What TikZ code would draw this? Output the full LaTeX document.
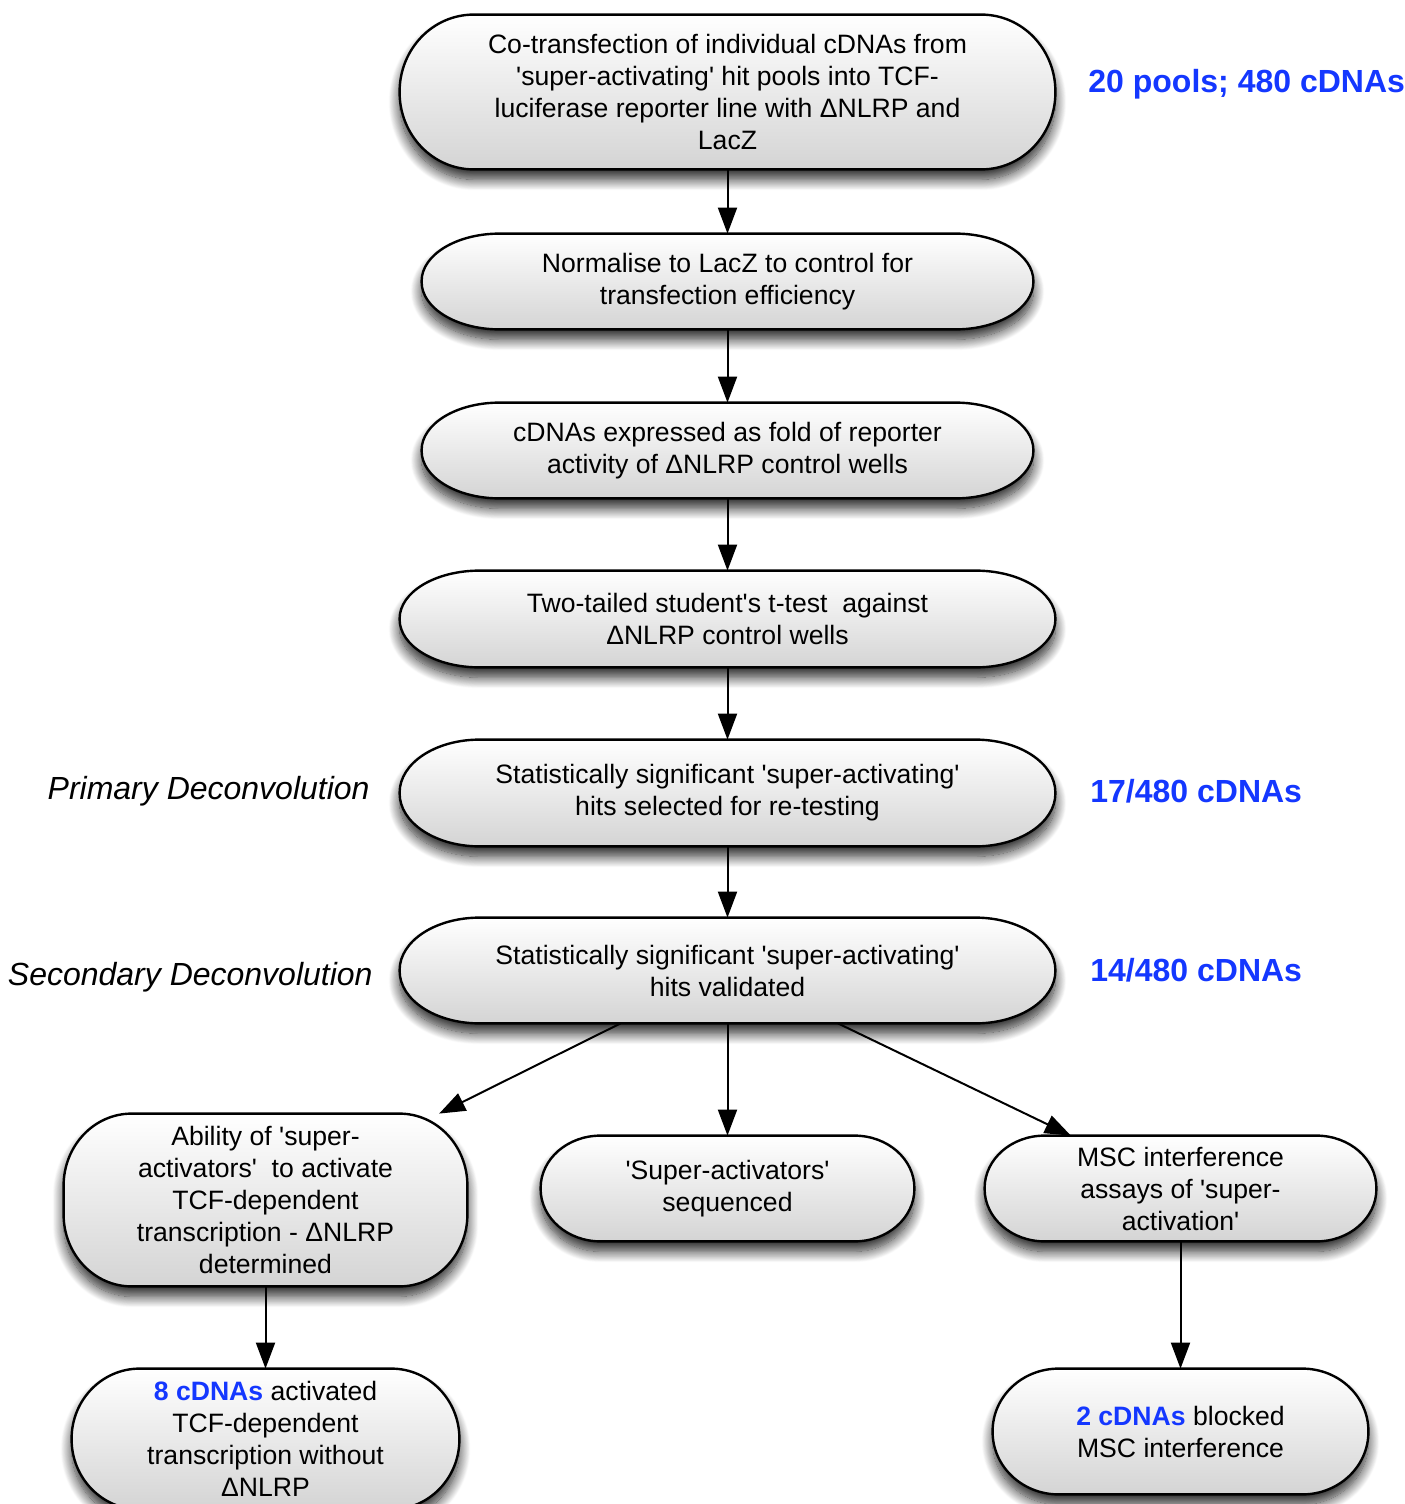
\documentclass[tikz,border=0pt]{standalone}
\usepackage{fontspec}
\setmainfont{Liberation Sans}
\usetikzlibrary{arrows.meta,shadows.blur}

\definecolor{hitblue}{RGB}{20,55,255}
\definecolor{pillbottom}{RGB}{212,212,212}
\newcommand{\sq}{\textquotesingle}

\pgfdeclarelayer{background}
\pgfsetlayers{background,main}

\tikzset{
  stage/.style={inner sep=0pt, align=center, font=\fontsize{13.3}{16}\selectfont},
  pillbody/.style={draw=black, line width=1.2pt, top color=white, bottom color=pillbottom,
    blur shadow={shadow xshift=0pt, shadow yshift=-5pt, shadow blur radius=5.5pt,
    shadow opacity=85, shadow blur steps=16}},
  flow/.style={line width=1pt, draw=black, -{Triangle[length=13pt,width=9.5pt,fill=black]}},
  count/.style={font=\fontsize{16}{19}\selectfont\bfseries, text=hitblue, inner sep=0pt},
  phase/.style={font=\fontsize{16}{19}\selectfont\itshape, inner sep=0pt},
}

% pill outline around a node: #1 node, #2 horizontal corner radius, #3 vertical corner radius
\newcommand{\pill}[3]{%
  \begin{pgfonlayer}{background}
  \path[pillbody]
    ([xshift=#2]#1.north west) -- ([xshift=-#2]#1.north east)
    arc[start angle=90, end angle=0, x radius=#2, y radius=#3]
    -- ([yshift=#3]#1.south east)
    arc[start angle=0, end angle=-90, x radius=#2, y radius=#3]
    -- ([xshift=#2]#1.south west)
    arc[start angle=270, end angle=180, x radius=#2, y radius=#3]
    -- ([yshift=-#3]#1.north west)
    arc[start angle=180, end angle=90, x radius=#2, y radius=#3]
    -- cycle;
  \end{pgfonlayer}}

\begin{document}
\begin{tikzpicture}[x=0.5pt, y=-0.5pt]
\useasboundingbox (0,0) rectangle (1404,1504);

% main pipeline
\node[stage, minimum width=327.5pt, minimum height=77pt] (b1) at (727.5,92)
  {Co-transfection of individual cDNAs from\\\sq{}super-activating\sq{} hit pools into TCF-\\luciferase reporter line with ΔNLRP and\\LacZ};
\node[stage, minimum width=305.5pt, minimum height=47.5pt] (b2) at (727.5,281.5)
  {Normalise to LacZ to control for\\transfection efficiency};
\node[stage, minimum width=305.5pt, minimum height=47.5pt] (b3) at (727.5,450.5)
  {cDNAs expressed as fold of reporter\\activity of ΔNLRP control wells};
\node[stage, minimum width=327.5pt, minimum height=48pt] (b4) at (727.5,619)
  {Two-tailed student\sq{}s t-test\ \ against\\ΔNLRP control wells};
\node[stage, minimum width=327.5pt, minimum height=53pt] (b5) at (727.5,793)
  {Statistically significant \sq{}super-activating\sq{}\\hits selected for re-testing};
\node[stage, minimum width=327.5pt, minimum height=52.5pt] (b6) at (727.5,970.5)
  {Statistically significant \sq{}super-activating\sq{}\\hits validated};

% three branches
\node[stage, minimum width=201.5pt, minimum height=86pt] (b7) at (265.5,1200)
  {Ability of \sq{}super-\\activators\sq{}\ \ to activate\\TCF-dependent\\transcription - ΔNLRP\\determined};
\node[stage, minimum width=186.5pt, minimum height=52.5pt] (b8) at (727.5,1188.5)
  {\sq{}Super-activators\sq{}\\sequenced};
\node[stage, minimum width=195.5pt, minimum height=52.5pt] (b9) at (1180.5,1188.5)
  {MSC interference\\assays of \sq{}super-\\activation\sq{}};
\node[stage, minimum width=193.5pt, minimum height=70pt] (b10) at (265.5,1439)
  {{\bfseries\color{hitblue}8 cDNAs} activated\\TCF-dependent\\transcription without\\ΔNLRP};
\node[stage, minimum width=187.5pt, minimum height=62.5pt] (b11) at (1180.5,1431.5)
  {{\bfseries\color{hitblue}2 cDNAs} blocked\\MSC interference};

\pill{b1}{37pt}{38.5pt}
\pill{b2}{39pt}{23.75pt}
\pill{b3}{39pt}{23.75pt}
\pill{b4}{40pt}{24pt}
\pill{b5}{40pt}{26.5pt}
\pill{b6}{40pt}{26.25pt}
\pill{b7}{34pt}{36pt}
\pill{b8}{30pt}{26.25pt}
\pill{b9}{30pt}{26.25pt}
\pill{b10}{34pt}{35pt}
\pill{b11}{33pt}{31.25pt}

% side annotations
\node[count, anchor=west] (n1) at (1088,84) {20 pools; 480 cDNAs};
\node[count, anchor=west] (n2) at (1090,791) {17/480 cDNAs};
\node[count, anchor=west] (n3) at (1090,970) {14/480 cDNAs};
\node[phase, anchor=east] (p1) at (370,791) {Primary Deconvolution};
\node[phase, anchor=east] (p2) at (373,977) {Secondary Deconvolution};

% connectors
\draw[flow] (b1) -- (b2);
\draw[flow] (b2) -- (b3);
\draw[flow] (b3) -- (b4);
\draw[flow] (b4) -- (b5);
\draw[flow] (b5) -- (b6);
\draw[flow] ([xshift=-53.5pt]b6.south) -- (b7);
\draw[flow] (b6) -- (b8);
\draw[flow] ([xshift=55.25pt]b6.south) -- (b9);
\draw[flow] (b7) -- (b10);
\draw[flow] (b9) -- (b11);
\end{tikzpicture}
\end{document}
